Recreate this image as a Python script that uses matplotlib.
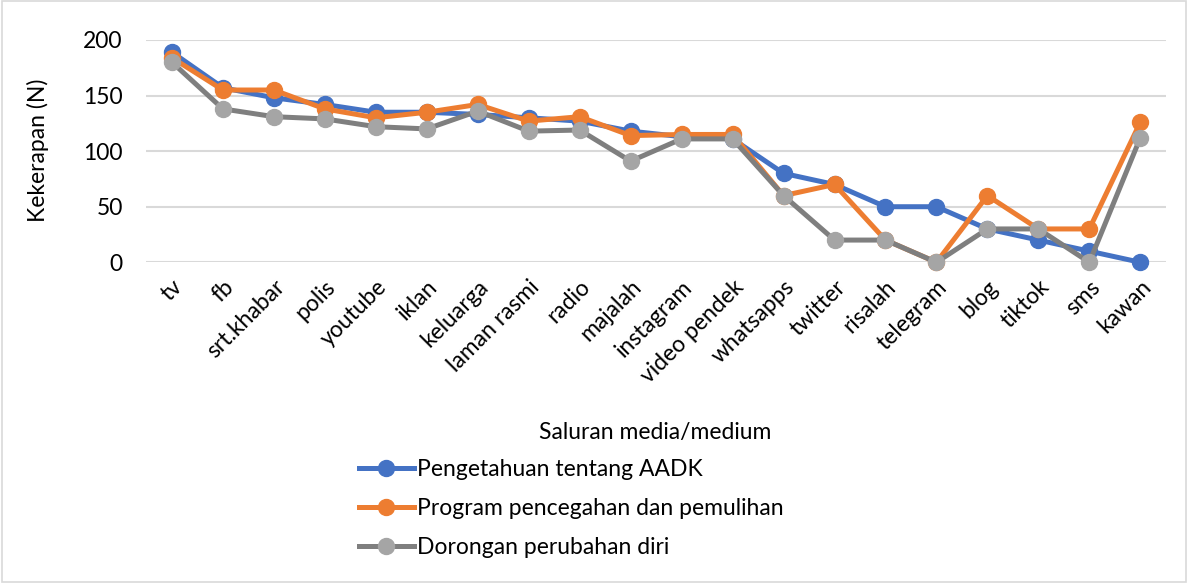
import numpy as np
import matplotlib.pyplot as plt
from matplotlib.patches import Rectangle

plt.rcParams['font.family'] = ['Lato', 'DejaVu Sans']

# data
categories = ["tv", "fb", "srt.khabar", "polis", "youtube", "iklan", "keluarga",
              "laman rasmi", "radio", "majalah", "instagram", "video pendek",
              "whatsapps", "twitter", "risalah", "telegram", "blog", "tiktok",
              "sms", "kawan"]
pengetahuan = [189, 157, 148, 142, 135, 135, 133, 130, 127, 118, 113, 111,
               80, 70, 50, 50, 30, 20, 10, 0]
program = [184, 155, 155, 138, 130, 135, 142, 127, 131, 114, 115, 115,
           60, 70, 20, 0, 60, 30, 30, 126]
dorongan = [180, 138, 131, 129, 122, 120, 136, 118, 119, 91, 111, 111,
            60, 20, 20, 0, 30, 30, 0, 112]
series_names = ["Pengetahuan tentang AADK",
                "Program pencegahan dan pemulihan",
                "Dorongan perubahan diri"]

fs = 16.5

fig = plt.figure(figsize=(11.88, 5.83), dpi=100)
fig.patches.append(Rectangle((0.002, 0.002), 0.996, 0.996, transform=fig.transFigure,
                             fill=False, edgecolor='#D9D9D9', linewidth=1.2))

ax = fig.add_axes([0.1233, 0.5501, 0.858, 0.3813])
x = np.arange(len(categories))

styles = [("#4472C4", "#4472C4"), ("#ED7D31", "#ED7D31"), ("#7F7F7F", "#A5A5A5")]
handles = []
for vals, (lc, mc), name in zip([pengetahuan, program, dorongan], styles, series_names):
    h, = ax.plot(x, vals, color=lc, linewidth=3.6, marker='o', markersize=11.5,
                 markerfacecolor=mc, markeredgecolor=mc, label=name, clip_on=False,
                 zorder=3)
    handles.append(h)

ax.set_xlim(-0.5, len(categories) - 0.5)
ax.set_ylim(0, 200)
ax.set_yticks([0, 50, 100, 150, 200])
ax.grid(axis='y', color='#D9D9D9', linewidth=1.5)
ax.set_axisbelow(True)
for s in ax.spines.values():
    s.set_visible(False)
ax.tick_params(axis='both', length=0, labelsize=fs, colors='black')
ax.tick_params(axis='y', pad=17)
ax.set_xticks(x)
ax.set_xticklabels(categories, rotation=45, ha='right', va='top',
                   rotation_mode='anchor')
ax.tick_params(axis='x', pad=10)

fig.text(38 / 1188, 1 - 150 / 583, "Kekerapan (N)", rotation=90, fontsize=fs,
         ha='center', va='center')
fig.text(655 / 1188, 1 - 432 / 583, "Saluran media/medium", fontsize=fs,
         ha='center', va='center')

fig.legend(handles=handles, loc='upper left',
           bbox_to_anchor=(338 / 1188, 1 - 438 / 583), frameon=False,
           fontsize=fs, handlelength=2.4, handletextpad=0.15, labelspacing=0.8)

fig.savefig("out.png", dpi=100)
